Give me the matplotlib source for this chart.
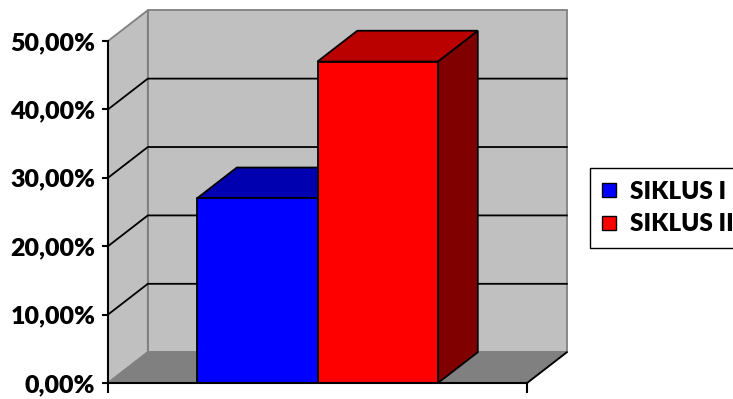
import matplotlib
matplotlib.use('Agg')
import matplotlib.pyplot as plt
from matplotlib.patches import Polygon, Patch
from matplotlib.ticker import FuncFormatter

# data
series = ['SIKLUS I', 'SIKLUS II']
values = [27.0, 47.0]
front_colors = ['#0000FF', '#FF0000']
top_colors = ['#0000B0', '#BB0000']
side_colors = ['#000080', '#800000']
y_ticks = [0, 10, 20, 30, 40, 50]

plt.rcParams['font.family'] = ['Lato', 'DejaVu Sans']

W, H = 733, 399
fig = plt.figure(figsize=(W / 100, H / 100), dpi=100)
ax = fig.add_axes([108 / W, 1 - 383 / H, (527 - 108) / W, (383 - 41) / H])
ax.set_xlim(0, 2)
ax.set_ylim(0, 50)
ax.patch.set_visible(False)

# oblique depth offset (in data units)
dx, dy = 0.19, 4.5
wall = '#C0C0C0'
edge = '#808080'

# walls and floor
back = [(dx, dy), (2 + dx, dy), (2 + dx, 50 + dy), (dx, 50 + dy)]
side = [(0, 0), (0, 50), (dx, 50 + dy), (dx, dy)]
floor = [(0, 0), (2, 0), (2 + dx, dy), (dx, dy)]
for pts, fc in [(back, wall), (side, wall), (floor, '#808080')]:
    ax.add_patch(Polygon(pts, closed=True, facecolor=fc, edgecolor=edge,
                         lw=1.3, clip_on=False, zorder=0))
ax.plot([2, 2 + dx], [0, dy], color='black', lw=1.3, clip_on=False, zorder=1)

# gridlines on the side and back walls
for v in y_ticks[1:-1]:
    ax.plot([0, dx, 2 + dx], [v, v + dy, v + dy], color='black', lw=1.3,
            clip_on=False, zorder=1)

# bars
bw = 0.575
for i, v in enumerate(values):
    x0 = 1 - bw + i * bw
    x1 = x0 + bw
    faces = [
        ([(x1, 0), (x1 + dx, dy), (x1 + dx, v + dy), (x1, v)], side_colors[i]),
        ([(x0, v), (x1, v), (x1 + dx, v + dy), (x0 + dx, v + dy)], top_colors[i]),
        ([(x0, 0), (x1, 0), (x1, v), (x0, v)], front_colors[i]),
    ]
    for pts, fc in faces:
        ax.add_patch(Polygon(pts, closed=True, facecolor=fc, edgecolor='black',
                             lw=1.3, clip_on=False, zorder=3 + i))

# axes
for s in ['top', 'right']:
    ax.spines[s].set_visible(False)
for s in ['left', 'bottom']:
    ax.spines[s].set_linewidth(1.5)
    ax.spines[s].set_zorder(6)
ax.set_yticks(y_ticks)
ax.yaxis.set_major_formatter(FuncFormatter(lambda v, p: f'{v:.2f}%'.replace('.', ',')))
ax.tick_params(axis='y', direction='out', length=4, width=1.5, pad=5,
               labelsize=18)
for t in ax.get_yticklabels():
    t.set_fontweight('heavy')
ax.set_xticks([0, 2])
ax.set_xticklabels([])
ax.tick_params(axis='x', direction='out', length=7, width=1.5)

handles = [Patch(facecolor=c, edgecolor='black', lw=1) for c in front_colors]
leg = fig.legend(handles, series, loc='center left',
                 bbox_to_anchor=(590 / W, 1 - 208 / H),
                 prop={'weight': 'heavy', 'size': 17.5},
                 fancybox=False, edgecolor='black', framealpha=1,
                 handlelength=0.55, handleheight=0.55, handletextpad=0.6,
                 borderpad=0.5, labelspacing=0.45, borderaxespad=0)
leg.get_frame().set_linewidth(1)

fig.savefig('out.png', dpi=100)
